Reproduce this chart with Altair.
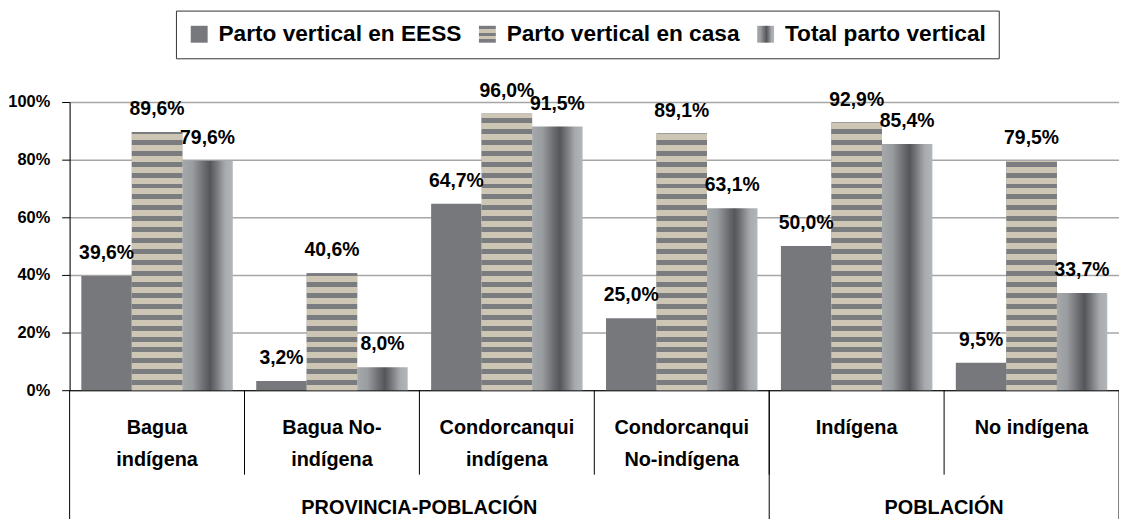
import json
import altair as alt

# ---------------- data ----------------
categories = ["Bagua|indígena", "Bagua No-|indígena", "Condorcanqui|indígena",
              "Condorcanqui|No-indígena", "Indígena", "No indígena"]
series = ["Parto vertical en EESS", "Parto vertical en casa", "Total parto vertical"]
eess = [0.396, 0.032, 0.647, 0.250, 0.500, 0.095]
casa = [0.896, 0.406, 0.960, 0.891, 0.929, 0.795]
total = [0.796, 0.080, 0.915, 0.631, 0.854, 0.337]
groups = ["PROVINCIA-POBLACIÓN", "POBLACIÓN"]
group_sizes = [4, 2]
y_ticks = [0, 0.2, 0.4, 0.6, 0.8, 1.0]

# ---------------- styles ----------------
FONT = "Liberation Sans, Arial, Helvetica, sans-serif"
W, H = 1056, 290
GRAY = "#77787c"
BEIGE = "#cdc6b5"
STRIPE_GRAY = "#7b7c80"

cyl = {"gradient": "linear", "x1": 0, "y1": 0, "x2": 1, "y2": 0,
       "stops": [{"offset": 0, "color": "#a6a9ac"},
                 {"offset": 0.2, "color": "#9a9da0"},
                 {"offset": 0.42, "color": "#6d6e72"},
                 {"offset": 0.55, "color": "#55565a"},
                 {"offset": 0.68, "color": "#77787c"},
                 {"offset": 0.85, "color": "#a8abae"},
                 {"offset": 1, "color": "#b3b6b9"}]}

legend_stripes = {"gradient": "linear", "x1": 0, "y1": 0, "x2": 0, "y2": 1, "stops": []}
for i, c in enumerate([STRIPE_GRAY, BEIGE, STRIPE_GRAY, BEIGE, STRIPE_GRAY]):
    legend_stripes["stops"].append({"offset": i / 5, "color": c})
    legend_stripes["stops"].append({"offset": (i + 1) / 5, "color": c})


def stripe_gradient(value):
    h = value * H
    segs = []
    d, first = 0.0, True
    color = BEIGE
    while d < h:
        w = 5.0 if first else (6.0 if color == BEIGE else 5.0)
        first = False
        segs.append((d, min(d + w, h), color))
        d += w
        color = STRIPE_GRAY if color == BEIGE else BEIGE
    stops = []
    for d0, d1, c in reversed(segs):
        stops.append({"offset": round(1 - d1 / h, 5), "color": c})
        stops.append({"offset": round(1 - d0 / h, 5), "color": c})
    return {"gradient": "linear", "x1": 0, "y1": 0, "x2": 0, "y2": 1, "stops": stops}


records = []
for s, vals in zip(series, [eess, casa, total]):
    for c, v in zip(categories, vals):
        r = {"cat": c, "serie": s, "v": v}
        if s == series[1]:
            r["grad"] = stripe_gradient(v)
        records.append(r)
data = alt.Data(values=records)

bounds_inner = [{"pos": i} for i in range(1, len(categories))]
gb, acc = [{"pos": 0}], 0
centers = []
for g, n in zip(groups, group_sizes):
    centers.append({"pos": acc + n / 2, "g": g})
    acc += n
    gb.append({"pos": acc})

x_enc = alt.X("cat:N", sort=categories,
              scale=alt.Scale(paddingInner=0.134, paddingOuter=0.067),
              axis=alt.Axis(title=None, labelExpr="split(datum.label, '|')", ticks=False,
                            domainColor="black", domainWidth=1, labelAngle=0,
                            labelFont=FONT, labelFontSize=20, labelFontWeight="bold",
                            labelColor="black", labelPadding=28, labelBaseline="top",
                            labelLineHeight=32, labelLimit=0, grid=False))
xo_enc = alt.XOffset("serie:N", sort=series, scale=alt.Scale(domain=series, paddingInner=0))
y_enc = alt.Y("v:Q", scale=alt.Scale(domain=[0, 1], nice=False),
              axis=alt.Axis(title=None, values=y_ticks, format=".0%", grid=True,
                            gridColor="#a6a6a6", gridWidth=1.5, domainColor="black",
                            tickColor="black", tickSize=8, labelFont=FONT, labelFontSize=16.5,
                            labelFontWeight="bold", labelColor="black", labelPadding=12))

bars = alt.Chart(data).mark_bar(strokeWidth=0).encode(
    x=x_enc, xOffset=xo_enc, y=y_enc,
    color=alt.Color("serie:N", sort=series,
                    scale=alt.Scale(domain=series,
                                    range=[GRAY, {"expr": json.dumps(legend_stripes)},
                                           {"expr": json.dumps(cyl)}]),
                    legend=alt.Legend(title=None, orient="none", legendX=107, legendY=-92,
                                      direction="horizontal", symbolType="square",
                                      symbolSize=289, symbolStrokeWidth=0,
                                      labelFont=FONT, labelFontSize=22.8, labelFontWeight="bold",
                                      labelColor="black", labelLimit=0,
                                      strokeColor="#333333", fillColor="white",
                                      padding=12, columnPadding=14, labelOffset=8))
)

stripes = alt.Chart(data).transform_filter(
    alt.datum.serie == series[1]
).mark_bar(strokeWidth=0).encode(
    x=x_enc, xOffset=xo_enc, y=y_enc,
    fill=alt.Fill("grad:N", scale=None)
)

labels = alt.Chart(data).transform_calculate(
    lbl="replace(format(datum.v, '.1%'), '.', ',')"
).mark_text(font=FONT, fontSize=19.5, fontWeight="bold", color="black",
            baseline="alphabetic", dy=-17).encode(
    x=x_enc, xOffset=xo_enc, y=y_enc, text="lbl:N"
)

layer_a = alt.layer(bars, stripes, labels)

xq = alt.X("pos:Q", scale=alt.Scale(domain=[0, len(categories)], nice=False, zero=False), axis=None)
inner_rules = alt.Chart(alt.Data(values=bounds_inner)).mark_rule(color="black", strokeWidth=1).encode(
    x=xq, y=alt.value(H), y2=alt.value(H + 85))
group_rules = alt.Chart(alt.Data(values=gb)).mark_rule(color="black", strokeWidth=1).encode(
    x=xq, y=alt.value(H), y2=alt.value(H + 140))
group_text = alt.Chart(alt.Data(values=centers)).mark_text(
    font=FONT, fontSize=20, fontWeight="bold", color="black", baseline="alphabetic").encode(
    x=xq, y=alt.value(H + 125), text="g:N")

layer_b = alt.layer(inner_rules, group_rules, group_text)

chart = alt.layer(layer_a, layer_b).resolve_scale(x="independent").properties(
    width=W, height=H,
    autosize=alt.AutoSizeParams(type="none"),
    padding={"left": 62, "top": 93, "right": 0, "bottom": 128},
).configure_view(strokeWidth=0).configure(background="white")

chart.save("out.html", embed_options={"renderer": "svg", "actions": False})
